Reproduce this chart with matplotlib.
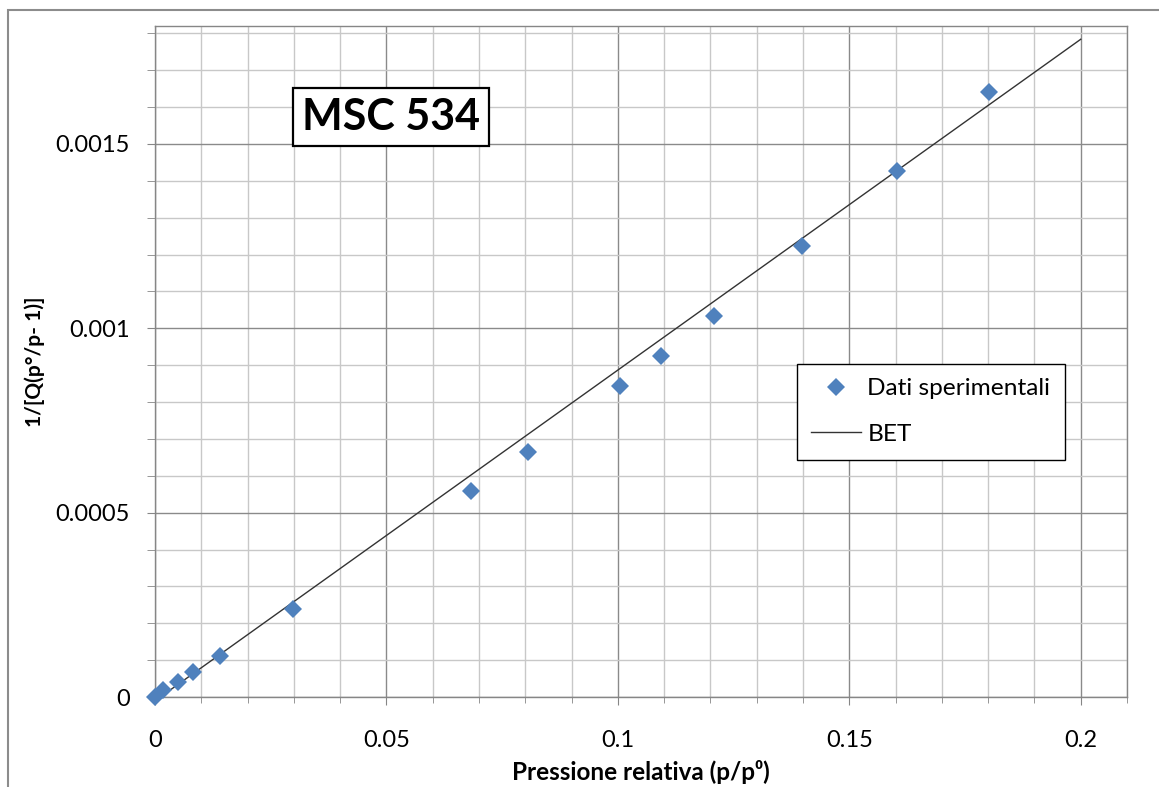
import numpy as np
import matplotlib.pyplot as plt
from matplotlib.ticker import MultipleLocator
from matplotlib.patches import Rectangle

# dati
pressione = [0.0, 0.0017, 0.0050, 0.0083, 0.0140, 0.0299, 0.0683, 0.0805,
             0.1004, 0.1093, 0.1207, 0.1398, 0.1603, 0.1802]
bet_y_dati = [0.0, 0.000019, 0.0000415, 0.0000686, 0.000111, 0.000238, 0.000560,
              0.000665, 0.000843, 0.000925, 0.001033, 0.001223, 0.001427, 0.001641]

# retta BET (estremi)
bet_x = [0.0015, 0.2]
bet_y = [0.000003, 0.001784]

x_ticks = [0, 0.05, 0.1, 0.15, 0.2]
x_labels = ['0', '0.05', '0.1', '0.15', '0.2']
y_ticks = [0, 0.0005, 0.001, 0.0015]
y_labels = ['0', '0.0005', '0.001', '0.0015']

plt.rcParams['font.family'] = ['Lato', 'DejaVu Sans']

fig = plt.figure(figsize=(11.59, 7.87), dpi=100)
ax = fig.add_axes([155/1159, 1 - 697/787, 972/1159, 671/787])

# cornice esterna del grafico
fig.patches.append(Rectangle((8/1159, -0.2), 1.2, 1.2 - 10/787, transform=fig.transFigure,
                             fill=False, edgecolor='#8c8c8c', linewidth=1.5, clip_on=False))

ax.plot(bet_x, bet_y, color='#333333', linewidth=1.0, label='BET', zorder=3)
ax.plot(pressione, bet_y_dati, linestyle='none', marker='D', markersize=8.9,
        markeredgewidth=0, color='#4f81bd', label='Dati sperimentali', zorder=4,
        clip_on=False)

ax.set_xlim(0, 0.21)
ax.set_ylim(0, 0.00182)
ax.set_xticks(x_ticks)
ax.set_xticklabels(x_labels)
ax.set_yticks(y_ticks)
ax.set_yticklabels(y_labels)
ax.xaxis.set_minor_locator(MultipleLocator(0.01))
ax.yaxis.set_minor_locator(MultipleLocator(0.0001))

ax.grid(which='minor', color='#c8c8c8', linewidth=1.0)
ax.grid(which='major', color='#8a8a8a', linewidth=1.0)
ax.set_axisbelow(True)

for s in ax.spines.values():
    s.set_color('#868686')
    s.set_linewidth(1.0)

ax.tick_params(axis='x', which='major', length=6, color='#868686', labelsize=17, pad=18)
ax.tick_params(axis='x', which='minor', length=4, color='#868686')
ax.tick_params(axis='y', which='both', length=6, color='#868686', labelsize=17, pad=12)

ax.set_xlabel('Pressione relativa (p/p\u2070)', fontsize=17.5, fontweight='bold', labelpad=6)
ax.set_ylabel('1/[Q(p°/p- 1)]', fontsize=15, fontweight='bold', labelpad=8)

ax.text(0.2428, 0.8644, 'MSC 534', transform=ax.transAxes, fontsize=31, fontweight='bold',
        ha='center', va='center', zorder=5,
        bbox=dict(boxstyle='square,pad=0.22', facecolor='white', edgecolor='black', linewidth=1.6))

handles, labels = ax.get_legend_handles_labels()
leg = ax.legend(handles[::-1], labels[::-1], loc='upper left', bbox_to_anchor=(0.660, 0.497),
                fontsize=17.6, frameon=True, fancybox=False, handlelength=2.05,
                handletextpad=0.25, labelspacing=1.0, borderpad=0.6, borderaxespad=0)
leg.get_frame().set_edgecolor('black')
leg.get_frame().set_linewidth(1.0)
leg.get_frame().set_alpha(1)

fig.savefig('out.png', dpi=100)
